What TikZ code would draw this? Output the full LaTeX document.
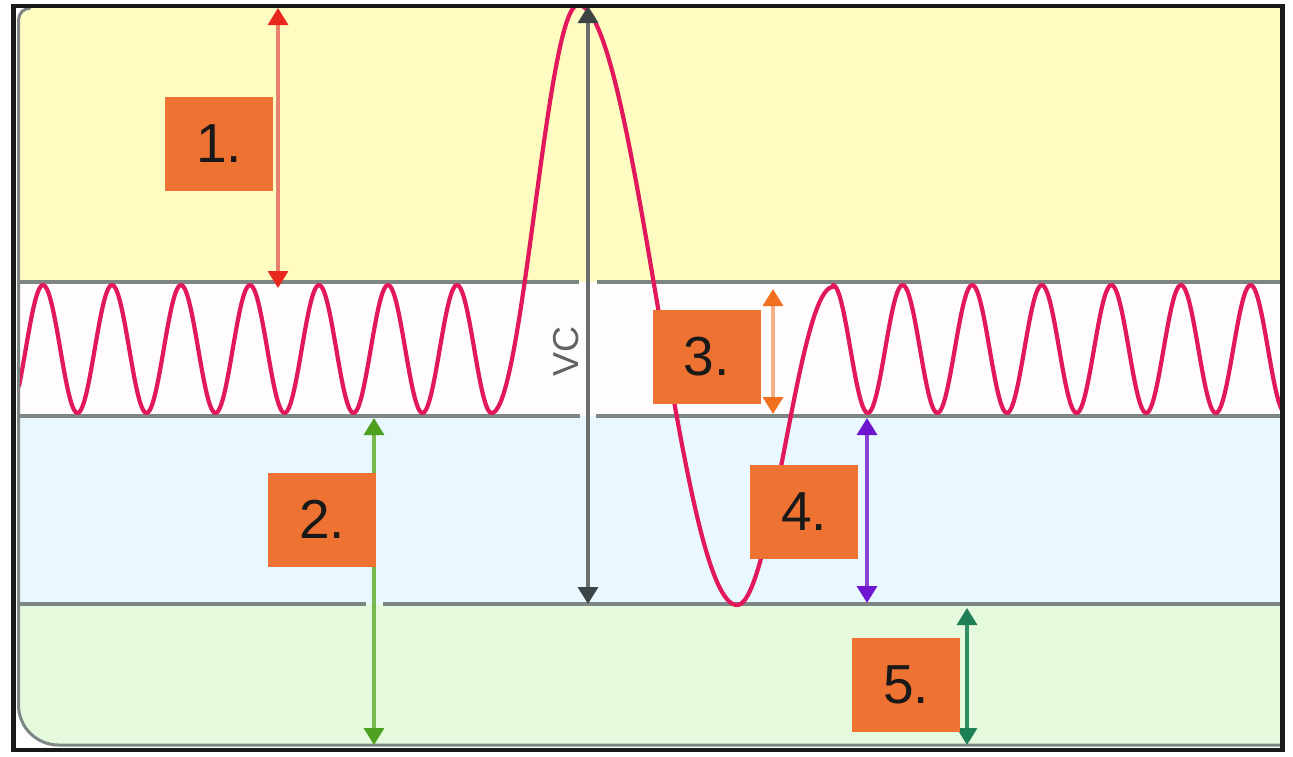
\documentclass[tikz,border=0pt]{standalone}
\usepackage{fontspec}
\setmainfont{Liberation Sans}
\usetikzlibrary{arrows.meta}
\definecolor{bandyellow}{HTML}{FFFCC2}
\definecolor{bandwhite}{HTML}{FFFCFD}
\definecolor{bandblue}{HTML}{E9F8FE}
\definecolor{bandgreen}{HTML}{E5F9DD}
\definecolor{gridgray}{HTML}{7E8585}
\definecolor{wavecol}{HTML}{E2185C}
\definecolor{boxorange}{HTML}{EE7232}
\definecolor{shaftA}{HTML}{E9806E}\definecolor{headA}{HTML}{E8281E}
\definecolor{shaftB}{HTML}{79B84E}\definecolor{headB}{HTML}{4EA020}
\definecolor{shaftC}{HTML}{F4B088}\definecolor{headC}{HTML}{F07020}
\definecolor{shaftD}{HTML}{8A44D8}\definecolor{headD}{HTML}{6E16CF}
\definecolor{shaftE}{HTML}{2F8E66}\definecolor{headE}{HTML}{1E7E55}
\definecolor{shaftV}{HTML}{6A6E6E}\definecolor{headV}{HTML}{3C4444}
\definecolor{vctext}{HTML}{5E6262}
\tikzset{
  numbox/.style={fill=boxorange, minimum width=108pt, minimum height=94pt, inner sep=0pt,
    font=\fontsize{55}{60}\selectfont, text=black!90},
  dimarr/.style 2 args={draw=#1, line width=3.2pt,
    arrows={Triangle[width=20pt,length=17pt,color=#2]-Triangle[width=20pt,length=17pt,color=#2]}},
  divider/.style={draw=gridgray, line width=3.2pt},
  wave/.style={draw=wavecol, line width=4.2pt, line join=round, line cap=round},
}
\begin{document}
\begin{tikzpicture}[x=1pt,y=-1pt]
\useasboundingbox (0,0) rectangle (1293,756);
\fill[white] (0,0) rectangle (1293,756);
% bands clipped to inner rounded area
\begin{scope}
\clip (1281,8) -- (30.5,8) arc[start angle=-90, end angle=-180, radius=12]
  -- (18.5,705) arc[start angle=180, end angle=90, radius=40] -- (1281,745) -- cycle;
\fill[bandyellow] (0,0) rectangle (1293,282);
\fill[bandwhite] (0,282) rectangle (1293,416);
\fill[bandblue] (0,416) rectangle (1293,604);
\fill[bandgreen] (0,604) rectangle (1293,756);
% dividers with gaps
\draw[divider] (18,282) -- (579,282) (597,282) -- (1282,282);
\draw[divider] (18,416) -- (580,416) (596,416) -- (1282,416);
\draw[divider] (18,604) -- (366,604) (383,604) -- (1282,604);
% wave
\draw[wave] plot[domain=19:491.5, samples=260] (\x, {349 - 64*cos((\x-43)*5.21739)})
  -- plot[domain=491.5:578, samples=60] (\x, {413 - 204*(1-cos((\x-491.5)*2.08092))})
  -- plot[domain=578:737, samples=90] (\x, {5 + 300*(1-cos((\x-578)*1.13208))})
  -- plot[domain=737:833, samples=60] (\x, {605 - 159*(1-cos((\x-737)*1.875))})
  -- plot[domain=833:1282, samples=260] (\x, {349 - 64*cos((\x-833)*5.17241)});
\end{scope}
% inner gray border (left and bottom)
\draw[draw=gridgray, line width=3pt] (30.5,8) arc[start angle=-90, end angle=-180, radius=12]
  -- (18.5,705) arc[start angle=180, end angle=90, radius=40] -- (1281,745);
% dimension arrows
\coordinate (a1t) at (278,8);   \coordinate (a1b) at (278,288);
\coordinate (a2t) at (374,418); \coordinate (a2b) at (374,745);
\coordinate (a3t) at (773,289); \coordinate (a3b) at (773,414);
\coordinate (a4t) at (867,418); \coordinate (a4b) at (867,603);
\coordinate (a5t) at (967,608); \coordinate (a5b) at (967,745);
\coordinate (vt) at (588,6);    \coordinate (vb) at (588,604);
\draw[dimarr={shaftA}{headA}] (a1t) -- (a1b);
\draw[dimarr={shaftB}{headB}] (a2t) -- (a2b);
\draw[dimarr={shaftC}{headC}] (a3t) -- (a3b);
\draw[dimarr={shaftD}{headD}] (a4t) -- (a4b);
\draw[dimarr={shaftE}{headE}] (a5t) -- (a5b);
\draw[dimarr={shaftV}{headV}] (vt) -- (vb);
\node[rotate=90, text=vctext, font=\fontsize{36}{40}\selectfont] (vc) at (566,351) {VC};
% number boxes
\node[numbox] (b1) at (219,144) {1.};
\node[numbox] (b2) at (322,519.5) {2.};
\node[numbox] (b3) at (706.5,356.5) {3.};
\node[numbox] (b4) at (804,512) {4.};
\node[numbox] (b5) at (906,685) {5.};
% outer black frame
\draw[black!90, line width=4.5pt] (13.5,6) rectangle (1282.5,750);
\end{tikzpicture}
\end{document}
